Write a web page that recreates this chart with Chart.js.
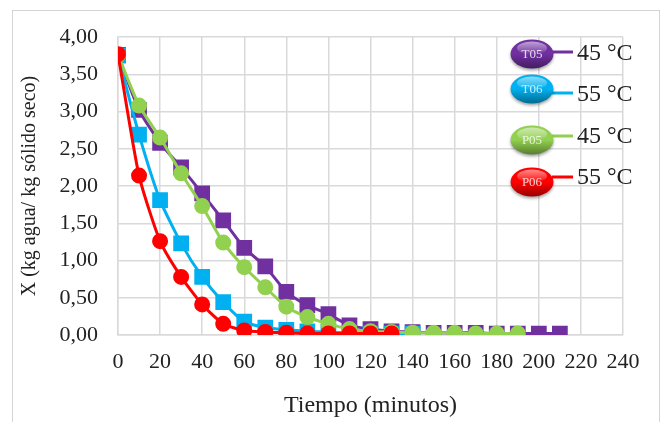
<!DOCTYPE html>
<html lang="es">
<head>
<meta charset="UTF-8">
<title>Curvas de secado</title>
<script src="https://cdn.jsdelivr.net/npm/chart.js"></script>
<style>
  body { margin: 0; background: #fff; }
</style>
</head>
<body>
<canvas id="dryChart" width="666" height="422"></canvas>
<script>
// tiempo (min) y humedad X (kg agua / kg solido seco)
const timeT05 = [0,10,20,30,40,50,60,70,80,90,100,110,120,130,140,150,160,170,180,190,200,210];
const xT05 = [3.76,3.02,2.58,2.25,1.90,1.54,1.17,0.92,0.58,0.40,0.28,0.13,0.08,0.05,0.04,0.03,0.03,0.03,0.02,0.02,0.02,0.02];

const timeT06 = [0,10,20,30,40,50,60,70,80,90,100,110,120,130,140];
const xT06 = [3.75,2.69,1.81,1.23,0.78,0.44,0.18,0.10,0.07,0.05,0.04,0.03,0.02,0.02,0.02];

const timeP05 = [0,10,20,30,40,50,60,70,80,90,100,110,120,130,140,150,160,170,180,190];
const xP05 = [3.76,3.08,2.65,2.17,1.73,1.24,0.91,0.64,0.38,0.24,0.15,0.08,0.05,0.04,0.03,0.03,0.03,0.02,0.02,0.02];

const timeP06 = [0,10,20,30,40,50,60,70,80,90,100,110,120,130];
const xP06 = [3.77,2.14,1.26,0.78,0.41,0.15,0.06,0.04,0.03,0.02,0.02,0.02,0.02,0.02];

const seriesCodes = ['T05', 'T06', 'P05', 'P06'];
const seriesLabels = ['45 °C', '55 °C', '45 °C', '55 °C'];
const seriesColors = ['#7030A0', '#00B0F0', '#92D050', '#FF0000'];

const serif = "'Liberation Serif', 'Times New Roman', serif";

function pts(xs, ys) {
    return xs.map((t, i) => ({ x: t, y: ys[i] }));
}

function makeSet(i, xs, ys, style, radius, order) {
    return {
        label: seriesLabels[i],
        code: seriesCodes[i],
        data: pts(xs, ys),
        borderColor: seriesColors[i],
        backgroundColor: seriesColors[i],
        pointBorderColor: seriesColors[i],
        borderWidth: 3,
        pointStyle: style,
        pointRadius: radius,
        tension: 0.2,
        order: order
    };
}

function shade(hex, f) {
    const n = parseInt(hex.slice(1), 16);
    const r = Math.round(((n >> 16) & 255) * f);
    const g = Math.round(((n >> 8) & 255) * f);
    const b = Math.round((n & 255) * f);
    return 'rgb(' + r + ',' + g + ',' + b + ')';
}

// frame around the whole figure
const framePlugin = {
    id: 'frame',
    beforeDraw(chart) {
        const c = chart.ctx;
        c.save();
        c.fillStyle = '#fff';
        c.fillRect(0, 0, chart.width, chart.height);
        c.strokeStyle = '#d4d4d4';
        c.lineWidth = 1;
        c.strokeRect(12.5, 10.5, 647, 420);
        c.restore();
    }
};

// legend with the glossy ellipse badges
const badgeLegend = {
    id: 'badgeLegend',
    afterDraw(chart) {
        const c = chart.ctx;
        const rows = [
            { cy: 54, ly: 52, ty: 54 },
            { cy: 89, ly: 93, ty: 95 },
            { cy: 140, ly: 136, ty: 137 },
            { cy: 182, ly: 177, ty: 178 }
        ];
        const cx = 532;
        chart.data.datasets.forEach((ds, i) => {
            const r = rows[i];
            const col = ds.borderColor;
            c.save();
            // connector line
            c.strokeStyle = col;
            c.lineWidth = 3;
            c.beginPath();
            c.moveTo(cx + 20, r.ly);
            c.lineTo(cx + 41, r.ly);
            c.stroke();
            // ellipse body
            c.beginPath();
            c.ellipse(cx, r.cy, 21.5, 14.5, 0, 0, Math.PI * 2);
            const g = c.createLinearGradient(0, r.cy - 14.5, 0, r.cy + 14.5);
            g.addColorStop(0, shade(col, 1.0));
            g.addColorStop(0.5, col);
            g.addColorStop(1, shade(col, 0.6));
            c.fillStyle = g;
            c.shadowColor = 'rgba(0,0,0,0.35)';
            c.shadowBlur = 3;
            c.shadowOffsetY = 2;
            c.fill();
            c.shadowColor = 'transparent';
            // soft highlight on top
            c.beginPath();
            c.ellipse(cx, r.cy - 6, 15, 6.5, 0, 0, Math.PI * 2);
            const h = c.createLinearGradient(0, r.cy - 12.5, 0, r.cy);
            h.addColorStop(0, 'rgba(255,255,255,0.55)');
            h.addColorStop(1, 'rgba(255,255,255,0.05)');
            c.fillStyle = h;
            c.fill();
            c.fillStyle = 'rgba(255,255,255,0.8)';
            c.font = '13px ' + serif;
            c.textAlign = 'center';
            c.textBaseline = 'middle';
            c.fillText(ds.code, cx, r.cy + 1);
            // label
            c.fillStyle = '#222';
            c.font = '24px ' + serif;
            c.textAlign = 'left';
            c.fillText(ds.label, 577, r.ty);
            c.restore();
        });
    }
};

const ctx = document.getElementById('dryChart').getContext('2d');
new Chart(ctx, {
    type: 'line',
    data: {
        datasets: [
            makeSet(0, timeT05, xT05, 'rect', 9, 3),
            makeSet(1, timeT06, xT06, 'rect', 9, 2),
            makeSet(2, timeP05, xP05, 'circle', 6.5, 1),
            makeSet(3, timeP06, xP06, 'circle', 6.5, 0)
        ]
    },
    options: {
        responsive: false,
        animation: false,
        layout: { padding: { left: 14, top: 37, right: 43, bottom: 0 } },
        plugins: {
            legend: { display: false },
            tooltip: { enabled: false }
        },
        scales: {
            x: {
                type: 'linear',
                min: 0,
                max: 240,
                afterFit(scale) { scale.height = 87; },
                ticks: {
                    stepSize: 20,
                    padding: 14,
                    color: '#222',
                    font: { family: serif, size: 22 }
                },
                grid: { color: '#d9d9d9', lineWidth: 1.5, drawTicks: false },
                border: { color: '#d9d9d9', width: 1.5 },
                title: {
                    display: true,
                    text: 'Tiempo (minutos)',
                    color: '#222',
                    font: { family: serif, size: 24 },
                    padding: { top: 0, bottom: 2 }
                }
            },
            y: {
                min: 0,
                max: 4,
                afterFit(scale) { scale.width = 104; },
                ticks: {
                    stepSize: 0.5,
                    padding: 20,
                    color: '#222',
                    font: { family: serif, size: 22 },
                    callback: v => v.toFixed(2).replace('.', ',')
                },
                grid: { color: '#d9d9d9', lineWidth: 1.5, drawTicks: false },
                border: { color: '#d9d9d9', width: 1.5 },
                title: {
                    display: true,
                    text: 'X (kg agua/ kg sólido seco)',
                    color: '#222',
                    font: { family: serif, size: 20 },
                    padding: { top: 4, bottom: 0 }
                }
            }
        }
    },
    plugins: [framePlugin, badgeLegend]
});
</script>
</body>
</html>
